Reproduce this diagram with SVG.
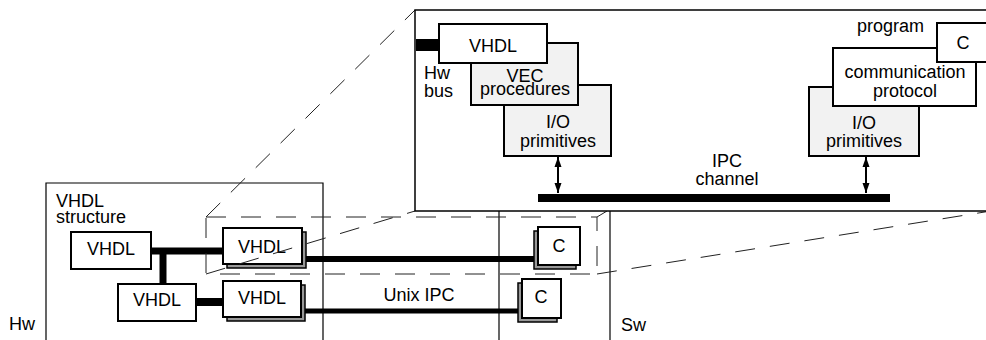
<svg xmlns="http://www.w3.org/2000/svg" width="986" height="340" viewBox="0 0 986 340">
<style>
text{font-family:"Liberation Sans",Arial,sans-serif;font-size:18px;fill:#000}
.m{text-anchor:middle}
.box{fill:#fff;stroke:#000;stroke-width:2}
.gbox{fill:#f2f2f2;stroke:#000;stroke-width:2}
.sh{fill:#999;stroke:#000;stroke-width:1.5}
.thin{fill:none;stroke:#000;stroke-width:1.2}
.dash{fill:none;stroke:#222;stroke-width:1;stroke-dasharray:20 15}
.bar{fill:none;stroke:#000}
</style>
<defs>
<marker id="ah" viewBox="0 0 10 10" refX="10" refY="5" markerWidth="10" markerHeight="10" markerUnits="userSpaceOnUse" orient="auto-start-reverse">
<path d="M0,1.5 L10,5 L0,8.5 Z" fill="#000"/>
</marker>
</defs>
<g id="frames">
<path class="thin" d="M46,340 V183 H323 V340"/>
<line class="thin" x1="499" y1="211" x2="499" y2="340"/>
<line class="thin" x1="610" y1="211" x2="610" y2="340"/>
</g>
<text x="56" y="207">VHDL</text>
<text x="56" y="223">structure</text>
<text x="9" y="330">Hw</text>
<text x="621" y="331">Sw</text>
<text class="m" x="419" y="301">Unix IPC</text>
<g id="connectors">
<line class="bar" x1="151" y1="251" x2="223" y2="251" stroke-width="7"/>
<line class="bar" x1="163" y1="251" x2="163" y2="284" stroke-width="7"/>
<line class="bar" x1="196" y1="302" x2="223" y2="302" stroke-width="8"/>
<line class="bar" x1="302" y1="259" x2="538" y2="259" stroke-width="6"/>
<line class="bar" x1="302" y1="311" x2="522" y2="311" stroke-width="5"/>
<line class="bar" x1="538" y1="198" x2="890" y2="198" stroke-width="8"/>
<line class="bar" x1="416" y1="45" x2="439" y2="45" stroke-width="12"/>
<line class="bar" x1="558" y1="157" x2="558" y2="193" stroke-width="2" marker-start="url(#ah)" marker-end="url(#ah)"/>
<line class="bar" x1="866" y1="157" x2="866" y2="193" stroke-width="2" marker-start="url(#ah)" marker-end="url(#ah)"/>
</g>
<g id="vhdl1"><rect class="box" x="71" y="232" width="80" height="37"/><text class="m" x="111" y="255">VHDL</text></g>
<g id="vhdl2"><rect class="box" x="118" y="284" width="78" height="37"/><text class="m" x="157" y="306">VHDL</text></g>
<g id="vhdl3"><rect class="sh" x="227" y="232" width="79" height="36"/><rect class="box" x="223" y="228" width="79" height="36"/><text class="m" x="262" y="253">VHDL</text></g>
<g id="vhdl4"><rect class="sh" x="227" y="285" width="78" height="36"/><rect class="box" x="223" y="281" width="78" height="36"/><text class="m" x="262" y="304">VHDL</text></g>
<g id="c1"><rect class="sh" x="534" y="231" width="42" height="38"/><rect class="box" x="538" y="227" width="42" height="38"/><text class="m" x="559" y="252">C</text></g>
<g id="c2"><rect class="sh" x="518" y="283" width="39" height="39"/><rect class="box" x="522" y="279" width="39" height="39"/><text class="m" x="541" y="303">C</text></g>
<g id="zoom">
<rect class="dash" x="206" y="217" width="391" height="57"/>
<line class="dash" x1="206" y1="217" x2="415" y2="10"/>
<line class="dash" x1="206" y1="274" x2="415" y2="211"/>
<line class="dash" x1="597" y1="274" x2="991" y2="211"/>
<line class="dash" x1="597" y1="217" x2="607" y2="211"/>
</g>
<g id="detail">
<rect x="415" y="10" width="576" height="201" fill="#fff" stroke="#000" stroke-width="1.5"/>
<line class="bar" x1="416" y1="45" x2="439" y2="45" stroke-width="12"/>
<line class="bar" x1="538" y1="198" x2="890" y2="198" stroke-width="8"/>
<line class="bar" x1="558" y1="157" x2="558" y2="193" stroke-width="2" marker-start="url(#ah)" marker-end="url(#ah)"/>
<line class="bar" x1="866" y1="157" x2="866" y2="193" stroke-width="2" marker-start="url(#ah)" marker-end="url(#ah)"/>
<text x="424" y="79">Hw</text>
<text x="424" y="97">bus</text>
<text class="m" x="727" y="167">IPC</text>
<text class="m" x="727" y="185">channel</text>
<text x="857" y="32">program</text>
</g>
<g id="io1"><rect class="gbox" x="504" y="85" width="107" height="71"/><text class="m" x="558" y="128">I/O</text><text class="m" x="558" y="147">primitives</text></g>
<g id="vec"><rect class="gbox" x="471" y="43" width="107" height="62"/><text class="m" x="525" y="82">VEC</text><text class="m" x="525" y="95">procedures</text></g>
<g id="vhdltop"><rect class="box" x="439" y="24" width="108" height="39"/><text class="m" x="493" y="52">VHDL</text></g>
<g id="io2"><rect class="gbox" x="809" y="87" width="110" height="69"/><text class="m" x="864" y="129">I/O</text><text class="m" x="864" y="147">primitives</text></g>
<g id="comm"><rect class="box" x="833" y="48" width="143" height="58"/><text class="m" x="905" y="78">communication</text><text class="m" x="905" y="97">protocol</text></g>
<g id="ctop"><rect class="box" x="937" y="23" width="60" height="39"/><text class="m" x="963" y="49">C</text></g>
</svg>
